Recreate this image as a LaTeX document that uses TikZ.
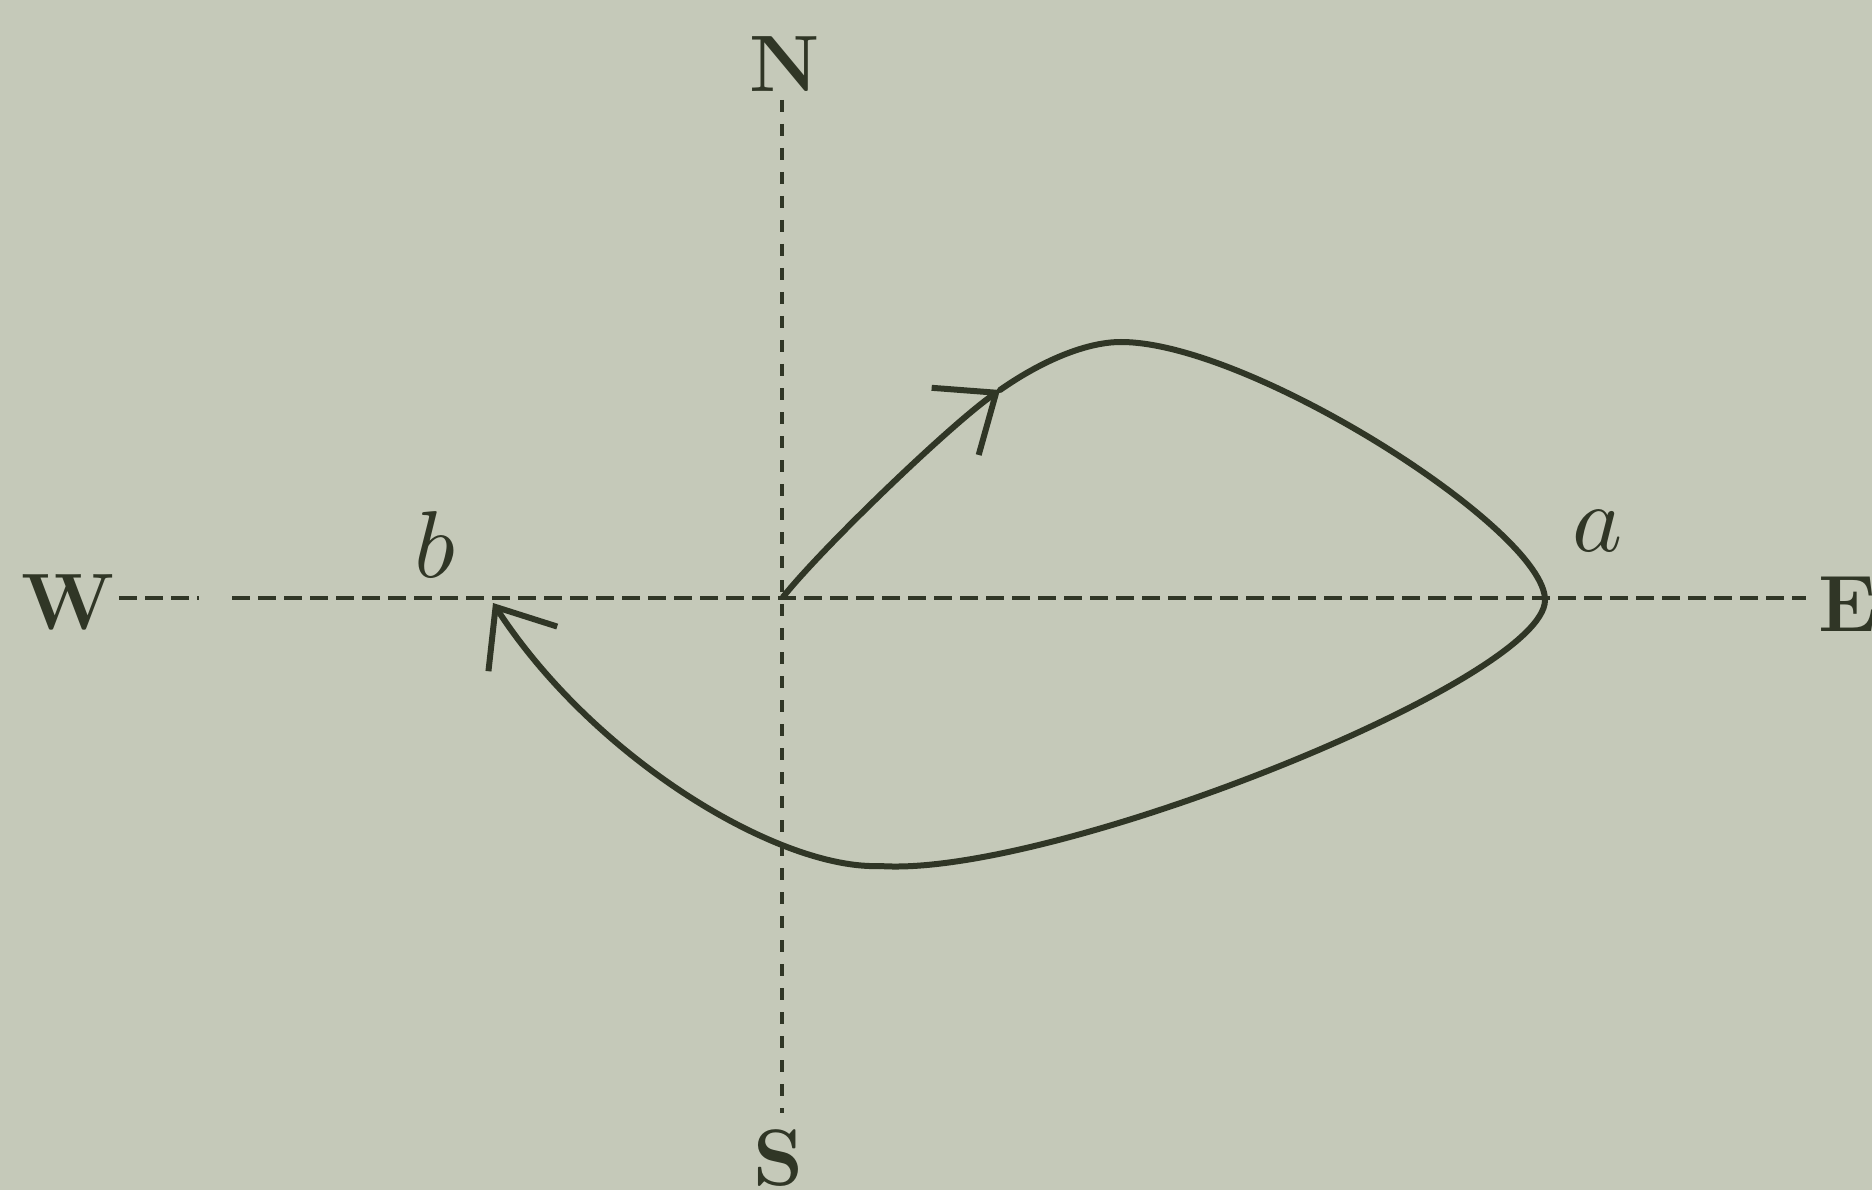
\documentclass[tikz,border=0pt]{standalone}
\usepackage{unicode-math}
\usetikzlibrary{arrows.meta}
\definecolor{paper}{RGB}{197,201,185}
\definecolor{ink}{RGB}{48,54,38}
\tikzset{
  compass/.style={text=ink,font=\fontsize{80}{90}\selectfont\bfseries,inner sep=0pt},
  pointlabel/.style={text=ink,font=\fontsize{95}{100}\selectfont,inner sep=0pt},
  vaxis/.style={draw=ink,line width=4.5pt,dash pattern=on 12pt off 12pt},
  haxis/.style={draw=ink,line width=4.5pt,dash pattern=on 18pt off 8pt},
  orbit/.style={draw=ink,line width=6pt,line cap=round},
  barb/.style={-{Straight Barb[length=50pt,width=82pt,line width=6pt]}}
}
\begin{document}
\begin{tikzpicture}[x=1pt,y=-1pt]
\fill[paper] (0,0) rectangle (1872,1190);
\useasboundingbox (0,0) rectangle (1872,1190);
% compass labels
\node[compass] (N) at (785,64) {N};
\node[compass] (S) at (778,1158) {S};
\node[compass] (W) at (68,602) {W};
\node[compass,anchor=west] (E) at (1818,604) {E};
% axis end points
\coordinate (vtop) at (782,100);
\coordinate (vbot) at (782,1113);
\coordinate (wa) at (119,598);
\coordinate (wb) at (199,598);
\coordinate (wc) at (232,598);
\coordinate (eend) at (1806,598);
\draw[vaxis] (vtop) -- (vbot);
\draw[haxis] (wa) -- (wb);
\draw[haxis] (wc) -- (eend);
% point labels
\node[pointlabel] (a) at (1598,531) {$a$};
\node[pointlabel] (b) at (436,545) {$b$};
% the orbit
\coordinate (O) at (783,597);
\coordinate (A1) at (1000,390);
\coordinate (P) at (1121,342);
\coordinate (R) at (1545,600);
\coordinate (L) at (880,866);
\coordinate (B) at (493,603);
\draw[orbit,barb] (O) .. controls (823,547) and (950,425) .. (A1);
\draw[orbit] (A1) .. controls (1040,362) and (1085,342) .. (P)
  .. controls (1250,342) and (1545,530) .. (R)
  .. controls (1545,680) and (1050,878) .. (L);
\draw[orbit,barb] (L) .. controls (780,870) and (595,760) .. (B);
\end{tikzpicture}
\end{document}
